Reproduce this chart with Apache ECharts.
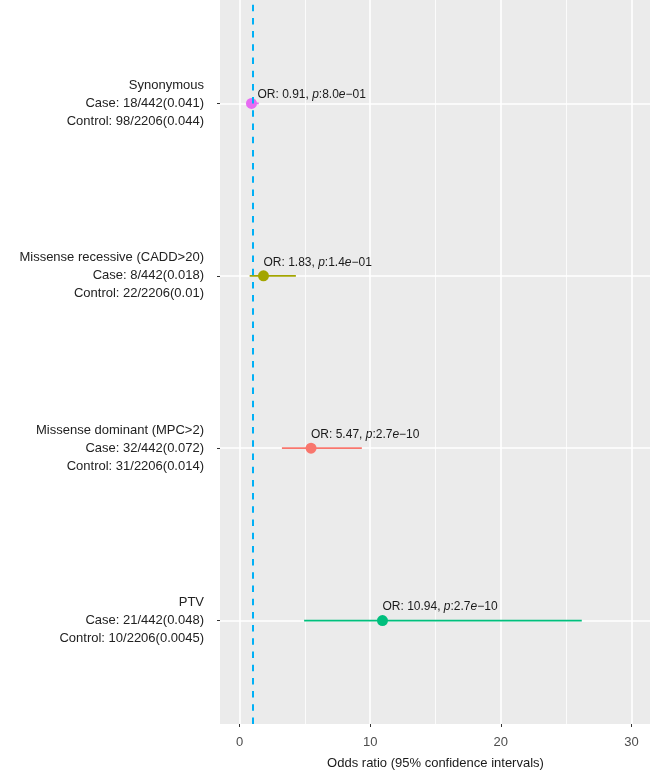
<!DOCTYPE html>
<html>
<head>
<meta charset="utf-8">
<script src="https://cdn.jsdelivr.net/npm/echarts@6/dist/echarts.min.js"></script>
<style>html,body{margin:0;padding:0;background:#fff}#c{width:650px;height:771px}</style>
</head>
<body>
<div id="c"></div>
<script>
// ---- data ----
const categories = ['Synonymous', 'Missense recessive (CADD>20)', 'Missense dominant (MPC>2)', 'PTV'];
const caseText = ['Case: 18/442(0.041)', 'Case: 8/442(0.018)', 'Case: 32/442(0.072)', 'Case: 21/442(0.048)'];
const controlText = ['Control: 98/2206(0.044)', 'Control: 22/2206(0.01)', 'Control: 31/2206(0.014)', 'Control: 10/2206(0.0045)'];
const yPositions = [4, 3, 2, 1];
const oddsRatio = [0.91, 1.83, 5.47, 10.94];
const ciLow = [0.56, 0.77, 3.24, 4.94];
const ciHigh = [1.47, 4.31, 9.36, 26.2];
const pMantissa = ['8.0', '1.4', '2.7', '2.7'];
const pExponent = ['\u221201', '\u221201', '\u221210', '\u221210'];
const colors = ['#E76BF3', '#A3A500', '#F8766D', '#00BF7D'];
const xTicks = [0, 10, 20, 30];
const xMinorGrid = [5, 15, 25];
const refLine = 1;

const FONT = 'Liberation Sans, Arial, sans-serif';
const labelByPos = {};
yPositions.forEach((p, i) => { labelByPos[p] = categories[i] + '\n' + caseText[i] + '\n' + controlText[i]; });

const chart = echarts.init(document.getElementById('c'), null, {renderer: 'canvas'});

const pointData = oddsRatio.map((v, i) => {
  const item = {
    value: [v, yPositions[i]],
    itemStyle: {color: colors[i]},
    label: {
      formatter: 'OR: ' + v.toFixed(2) + ', {i|p}:' + pMantissa[i] + '{i|e}' + pExponent[i]
    }
  };
  if (i === 0) item.label.offset = [6, 5];
  return item;
});

const option = {
  animation: false,
  grid: {
    left: 220, top: 0, width: 431, height: 724,
    outerBoundsMode: 'none', containLabel: false,
    show: true, backgroundColor: '#EBEBEB', borderWidth: 0
  },
  xAxis: {
    type: 'value', min: -1.5, max: 31.5,
    axisLine: {show: false, onZero: false},
    splitLine: {show: false},
    axisTick: {show: true, customValues: xTicks, length: 3, lineStyle: {color: '#333', width: 1}},
    axisLabel: {customValues: xTicks, margin: 12, color: '#4D4D4D', fontSize: 13, fontFamily: FONT},
    name: 'Odds ratio (95% confidence intervals)',
    nameLocation: 'middle', nameGap: 33,
    nameTextStyle: {color: '#1a1a1a', fontSize: 13, fontFamily: FONT}
  },
  yAxis: {
    type: 'value', min: 0.4, max: 4.6,
    axisLine: {show: false, onZero: false},
    splitLine: {show: false},
    axisTick: {show: true, customValues: yPositions, length: 3, lineStyle: {color: '#333', width: 1}},
    axisLabel: {
      customValues: yPositions, margin: 16,
      formatter: v => labelByPos[Math.round(v)] || '',
      align: 'right', lineHeight: 18,
      color: '#222', fontSize: 13, fontFamily: FONT
    }
  },
  series: [
    {
      type: 'line', data: [], z: 1, silent: true,
      markLine: {
        z: 1, silent: true, symbol: ['none', 'none'], label: {show: false}, animation: false,
        emphasis: {disabled: true},
        data: [
          ...xMinorGrid.map(v => ({xAxis: v, lineStyle: {color: '#FFFFFF', width: 0.8, type: 'solid'}})),
          ...xTicks.map(v => ({xAxis: v, lineStyle: {color: '#FFFFFF', width: 1.6, type: 'solid'}})),
          ...yPositions.map(v => ({yAxis: v, lineStyle: {color: '#FFFFFF', width: 1.6, type: 'solid'}}))
        ]
      }
    },
    {
      type: 'custom', z: 3, silent: true,
      data: oddsRatio.map((v, i) => [ciLow[i], ciHigh[i], yPositions[i], i]),
      renderItem: (params, api) => {
        const a = api.coord([api.value(0), api.value(2)]);
        const b = api.coord([api.value(1), api.value(2)]);
        return {
          type: 'line',
          shape: {x1: a[0], y1: a[1], x2: b[0], y2: b[1]},
          style: {stroke: colors[api.value(3)], lineWidth: 1.8, opacity: 1}
        };
      }
    },
    {
      type: 'scatter', z: 4, symbol: 'circle', symbolSize: 11,
      data: pointData,
      itemStyle: {opacity: 1},
      label: {
        show: true, position: 'top', align: 'left', verticalAlign: 'bottom', distance: 2,
        color: '#1a1a1a', fontSize: 12, fontFamily: FONT,
        rich: {i: {fontStyle: 'italic', color: '#1a1a1a', fontSize: 12, fontFamily: FONT}}
      }
    },
    {
      type: 'line', data: [], z: 6, silent: true,
      markLine: {
        z: 6, silent: true, symbol: ['none', 'none'], label: {show: false}, animation: false,
        emphasis: {disabled: true},
        data: [{xAxis: refLine, lineStyle: {color: '#00B0F6', width: 2, type: [6.5, 6.7]}}]
      }
    }
  ]
};
chart.setOption(option);
</script>
</body>
</html>
